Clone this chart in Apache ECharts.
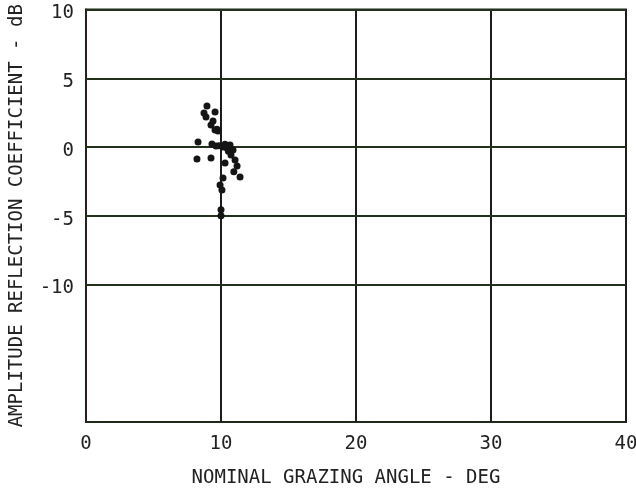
<!DOCTYPE html>
<html>
<head>
<meta charset="utf-8">
<script src="https://cdn.jsdelivr.net/npm/echarts@6/dist/echarts.min.js"></script>
<style>
  html, body { margin: 0; padding: 0; background: #fff; }
  #chart { width: 636px; height: 495px; }
</style>
</head>
<body>
<div id="chart"></div>
<script>
// Grazing angle (deg) of each measured sample
const grazingAngle = [
  8.96, 8.74, 8.89, 9.56, 9.41, 9.26, 9.56, 9.78, 8.30, 9.33,
  9.63, 10.15, 10.44, 10.67, 10.89, 10.74, 11.04, 11.19, 11.41, 8.22,
  9.26, 10.30, 10.15, 9.93, 10.07, 10.00, 10.00, 9.85, 10.30, 10.55,
  10.95, 9.70
];
// Amplitude reflection coefficient (dB) of each sample
const reflectionDb = [
  2.98, 2.47, 2.18, 2.54, 1.89, 1.60, 1.23, 1.16, 0.36, 0.22,
  0.07, 0.00, -0.07, 0.15, -0.22, -0.58, -0.94, -1.38, -2.18, -0.87,
  -0.80, -1.16, -2.25, -2.76, -3.12, -4.57, -5.00, 0.10, 0.20, -0.30,
  -1.80, 1.30
];
// Labelled horizontal grid levels (dB)
const gridLevels = [10, 5, 0, -5, -10];
// Angle ticks (deg)
const angleTicks = [0, 10, 20, 30, 40];

const points = grazingAngle.map((x, i) => [x, reflectionDb[i]]);

const FONT = '"DejaVu Sans Mono", "Liberation Mono", monospace';
const chart = echarts.init(document.getElementById('chart'), null, { renderer: 'canvas' });

chart.setOption({
  backgroundColor: '#ffffff',
  animation: false,
  grid: {
    left: 86, right: 10, top: 9.5, bottom: 73,
    outerBoundsMode: 'none',
    containLabel: false,
    show: true, borderColor: '#1f2a1a', borderWidth: 2, backgroundColor: 'transparent'
  },
  xAxis: {
    type: 'value',
    min: angleTicks[0], max: angleTicks[angleTicks.length - 1], interval: 10,
    name: 'NOMINAL GRAZING ANGLE - DEG',
    nameLocation: 'middle', nameGap: 47,
    nameTextStyle: { fontFamily: FONT, fontSize: 19, color: '#222', padding: [0, 20, 0, 0] },
    axisLine: { show: true, lineStyle: { color: '#1f2a1a', width: 2 } },
    axisTick: { show: true, length: 3, inside: false, lineStyle: { color: '#1f2a1a', width: 2 } },
    axisLabel: { fontFamily: FONT, fontSize: 19, color: '#222', margin: 13 },
    splitLine: { show: true, lineStyle: { color: '#1c1c1c', width: 2 } }
  },
  yAxis: {
    type: 'value',
    min: -20, max: 10, interval: 5,
    name: 'AMPLITUDE REFLECTION COEFFICIENT - dB',
    nameLocation: 'middle', nameGap: 59,
    nameTextStyle: { fontFamily: FONT, fontSize: 19, color: '#222' },
    axisLine: { show: true, lineStyle: { color: '#2a1f1f', width: 2 } },
    axisTick: { show: false },
    axisLabel: {
      fontFamily: FONT, fontSize: 19, color: '#222', margin: 12,
      verticalAlign: 'top', lineHeight: 8,
      formatter: v => (gridLevels.indexOf(v) >= 0 ? String(v) : '')
    },
    splitLine: { show: false }
  },
  series: [{
    type: 'scatter',
    data: points,
    symbol: 'circle',
    symbolSize: 7,
    itemStyle: { color: '#151515', opacity: 1 },
    markLine: {
      silent: true,
      symbol: ['none', 'none'],
      label: { show: false },
      lineStyle: { color: '#22301c', width: 2, type: 'solid' },
      data: gridLevels.map(v => ({ yAxis: v }))
    },
    z: 5
  }]
});
</script>
</body>
</html>
